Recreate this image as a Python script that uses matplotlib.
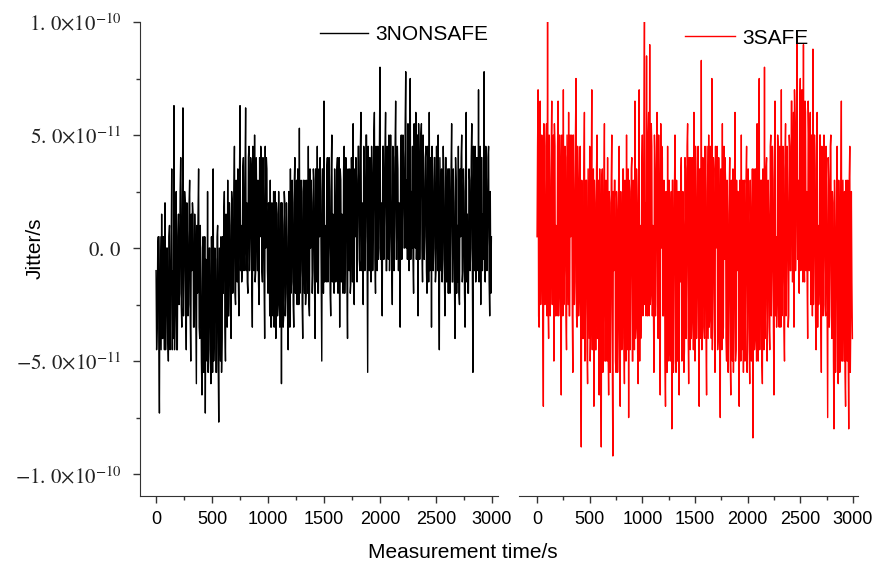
import numpy as np
import matplotlib
matplotlib.use("Agg")
import matplotlib.pyplot as plt
from matplotlib.ticker import MultipleLocator, FixedLocator

plt.rcParams['font.family'] = ['Liberation Sans', 'DejaVu Sans']
plt.rcParams['mathtext.fontset'] = 'stix'

# jitter values, in units of 1e-11 s
# *_peak: one every 10 s (the spiky envelope), *_core: the dense band in between (offset 5 s)
nonsafe_peak = [
    -1.0, -3.5, 0.5, -7.3, -2.0, 1.5, -4.0, -1.5, 2.0, -3.0, 0.0, -5.0, 1.0, -2.5, 3.5, -1.0, 6.3, -3.0, 2.5, -4.5,
    1.5, -2.0, 4.0, -3.5, 6.2, -1.0, 2.0, -4.5, 0.5, -2.5, 3.0, -5.0, -1.0, 1.5, -3.5, 0.0, -6.0, -2.0, 3.5, -4.0,
    -1.5, -6.5, 0.5, -3.0, -7.3, -1.0, 2.5, -4.5, 0.0, -6.0, -2.0, 3.5, -3.5, -0.5, -5.5, 1.0, -7.7, -2.5, 0.5, -4.0,
    -2.0, 2.5, -5.0, -0.5, 3.0, -3.0, 1.0, -4.0, 2.0, -1.5, 4.5, -2.5, 0.5, 3.5, -3.0, 6.3, 1.0, -1.0, 4.0, 0.0,
    6.2, 2.0, -2.0, 4.5, 0.5, 3.5, -3.5, 2.5, 5.0, -1.0, 1.5, 3.0, -2.5, 0.5, 4.0, -1.5, 2.0, -4.0, 0.0, 3.5,
    -2.0, 1.0, 3.0, -3.5, 0.0, 2.5, -1.5, -4.0, 1.5, -2.5, 0.5, -1.0, -6.0, 1.0, -3.0, 2.0, -2.0, 0.5, -4.5, 1.5,
    3.5, -1.5, 2.0, -3.5, 4.0, 0.0, -2.5, 1.5, 5.3, -1.0, 2.5, -4.0, 0.5, 3.0, -2.0, 1.0, 4.5, -3.0, 0.0, 2.0,
    -1.0, 3.0, -4.0, 1.5, 4.5, -2.0, 0.5, 2.5, -5.0, 3.5, 6.5, 1.0, -1.5, 4.0, 0.0, 2.5, -3.0, 5.0, 1.5, -2.0,
    2.0, -1.0, 4.0, 0.5, -3.5, 3.0, 1.5, -2.0, 4.5, 0.0, 2.5, -4.0, 1.0, 3.5, -1.5, 2.0, 5.5, -2.5, 0.5, 3.0,
    1.0, 4.5, -1.0, 6.0, 2.0, -2.5, 3.5, 0.5, 5.0, -5.5, 2.5, 4.0, -1.5, 3.0, 1.0, 6.0, -2.0, 2.5, 4.5, 0.0,
    8.0, 2.0, -3.0, 4.5, 1.5, 6.0, -1.0, 3.0, 5.0, 0.5, 2.5, -2.5, 4.0, 1.0, 6.5, -0.5, 3.5, 2.0, -3.5, 5.0,
    1.5, 4.0, 0.0, 7.8, 3.0, 5.5, -1.0, 7.5, 2.5, 4.5, -2.0, 3.5, 6.0, 1.0, -3.0, 4.0, 2.0, 5.5, -1.5, 3.0,
    0.5, 4.5, -2.0, 2.5, 6.0, 1.0, -3.5, 3.0, 0.0, 4.0, -1.0, 2.0, 5.0, -4.5, 1.5, 3.5, -0.5, 2.5, -3.0, 4.0,
    1.0, -2.0, 3.5, 0.5, 5.5, -1.5, 2.0, -4.0, 3.0, 1.0, 4.5, -2.5, 0.5, 5.0, -1.0, 2.5, -3.5, 6.0, 1.5, -2.0,
    3.0, 0.0, 5.5, -5.5, 2.0, 4.5, -1.0, 3.5, 7.0, 0.5, -2.5, 4.0, 1.5, 7.8, -1.5, 3.0, 0.5, 4.5, -3.0, -2.0,
]
nonsafe_core = [
    -4.5, 0.0, -4.0, 0.5, -4.5, -4.0, 0.5, -4.5, -4.5, 0.0, -4.0, 0.5, -4.5, 0.0, -4.5, -4.0, -4.5, 0.5, -4.5, 0.5,
    -2.5, 2.5, -2.5, 2.0, -3.0, 2.5, -2.5, 2.0, -3.0, 2.0, -3.0, 1.5, 2.0, -3.5, 1.5, -3.0, 1.0, 1.5, -3.5, 1.0,
    -5.0, 0.0, -5.5, 0.5, -0.5, -5.0, -5.5, 0.0, -5.0, 0.5, -5.5, -5.0, 0.0, -5.5, 0.5, -5.0, 0.0, -5.0, -5.5, 0.5,
    1.5, -3.5, 1.5, -3.5, -3.0, 2.0, -2.5, 2.5, -2.0, 2.5, -2.0, 3.0, -1.5, -1.5, 3.0, -1.0, -1.5, 3.5, -1.0, 3.5,
    -1.0, -1.5, 4.0, -1.0, 4.0, -1.5, 4.5, -1.0, -1.5, 4.0, -1.0, -1.5, 4.0, 4.5, -1.0, 4.0, -1.5, 4.5, 4.0, -1.0,
    2.0, -3.0, -3.5, 2.0, -3.0, -3.5, 2.5, 2.0, -3.0, 2.5, -3.5, 2.0, 2.0, -3.5, 2.5, -3.0, 2.0, -3.0, 2.5, -3.5,
    -2.0, 3.0, -2.5, 3.0, -2.0, 3.0, 3.5, -2.5, -2.0, 3.0, -2.5, 3.0, -2.0, -2.5, 3.0, -2.0, -2.5, 3.5, 3.0, -2.0,
    3.5, -1.5, 3.5, -1.5, -2.0, 3.5, 4.0, -1.5, 3.5, -2.0, -1.5, -1.0, 3.5, -1.5, 4.0, -2.0, 3.5, -1.5, -1.0, 3.5,
    -1.5, 3.5, -2.0, 4.0, 3.5, -1.5, -1.0, 3.5, -2.0, 4.0, -1.5, 3.5, -1.0, -2.0, 4.0, -1.5, -2.0, 3.5, 4.0, -1.5,
    4.5, -0.5, 4.5, -1.0, -0.5, 4.5, -1.0, 5.0, -0.5, 4.5, -1.0, -0.5, 4.5, -1.0, 5.0, -0.5, 4.5, -1.0, -0.5, 4.5,
    -0.5, -1.0, 4.5, -0.5, 4.5, -1.0, 4.5, -0.5, -1.0, 5.0, -0.5, 4.5, -1.0, 4.5, -0.5, 4.5, -1.0, -0.5, 4.5, -0.5,
    5.0, 0.0, 5.5, 0.0, -0.5, 0.0, 5.0, -0.5, 0.0, -0.5, 5.5, 0.0, -0.5, 5.0, 5.5, -0.5, 5.0, 0.0, 5.0, -0.5,
    4.0, -1.0, 4.5, -1.5, -1.0, 4.0, 4.5, -1.0, 4.0, -1.5, 4.5, -1.0, -1.5, 4.0, -1.0, -1.5, 4.5, -1.0, 4.0, -1.5,
    3.5, 3.5, -2.0, 3.5, -1.5, 3.5, -1.5, 4.0, -2.0, -1.5, -2.0, 3.5, 4.0, -1.5, 3.5, -2.0, 3.5, -1.5, -2.0, 3.5,
    -1.0, 4.0, -1.0, 4.5, -1.0, -1.5, 4.0, -1.0, -1.5, 4.5, 4.0, -1.0, -0.5, -1.0, 4.5, -1.0, 4.0, -1.5, 2.5, 0.5,
]

safe_peak = [
    0.5, 7.0, -3.5, 6.5, -1.0, 4.0, -7.0, 2.5, -2.0, 5.5, 10.0, -4.0, 3.0, -1.5, 6.5, 0.0, -5.0, 4.5, 1.0, -3.0,
    6.5, -2.0, 3.5, -6.5, 2.0, 7.0, -1.0, 4.0, -4.5, 1.5, 6.0, -3.0, 0.5, 5.0, -5.5, 2.5, -1.5, 7.5, -3.5, 3.0,
    -2.0, 4.5, -8.8, 1.0, -4.0, 6.0, -2.5, 3.0, -6.0, 0.0, 4.5, -3.5, 7.0, -1.0, -7.0, 2.0, -4.5, 5.0, -2.0, -6.5,
    1.5, -8.8, 3.5, -3.0, 5.5, -5.0, 0.0, 4.0, -6.5, 2.0, -2.5, 5.0, -9.2, -1.0, 3.0, -5.5, 1.5, -3.5, 4.5, -7.0,
    0.5, -4.0, 3.5, -6.0, 1.5, 5.0, -2.5, -7.5, 2.5, -1.0, 4.0, -5.0, 0.5, 6.5, -3.5, 2.0, -6.0, 7.0, 1.0, -2.5,
    5.0, -1.5, 10.0, 2.0, 8.5, -3.0, 6.0, 9.0, -2.0, 4.5, 1.0, -5.5, 3.5, -0.5, 6.0, -4.0, 2.5, -6.5, 0.0, 4.0,
    -3.0, 2.0, -7.0, 0.5, 4.5, -4.5, 1.5, -2.0, -8.0, 3.0, -1.0, 5.0, -5.5, 0.0, 2.5, -6.5, -1.5, 4.0, -3.5, 1.0,
    -4.5, 3.5, -1.0, 5.5, -6.0, 1.0, 4.0, -3.0, 0.5, 6.0, -5.0, 2.0, -2.0, 4.5, -7.0, 1.5, 8.3, -2.5, 3.0, -4.0,
    2.5, -6.5, 0.5, 5.0, -3.0, 1.5, 7.5, -2.0, 3.5, -5.5, 0.0, 4.5, -4.0, 2.0, -7.5, 1.0, 5.5, -3.5, -0.5, 3.0,
    -5.0, 1.5, -2.5, 4.0, -6.5, 0.0, 3.5, -3.5, 6.0, -4.5, -1.0, 2.5, -7.0, 1.0, 5.0, -2.0, -5.5, 3.0, -1.5, 4.5,
    -3.5, 2.0, -6.0, 1.0, -2.0, -8.4, 3.5, -4.0, 0.5, 5.5, -5.0, 7.5, -1.0, 3.0, -6.0, 2.0, 8.0, -2.5, 4.0, -3.0,
    1.5, -4.5, 5.0, -1.0, 3.0, -6.5, 6.5, 0.5, -2.5, 4.5, -3.5, 2.5, 7.0, -1.5, 3.5, -5.0, 5.5, 0.0, 2.0, -3.0,
    4.5, -1.0, 6.5, 2.0, -3.5, 5.5, 1.0, 9.3, 3.0, -2.0, 7.5, 0.5, 4.0, 9.0, -1.5, 6.0, 2.5, -4.0, 5.0, 1.5,
    -2.5, 4.5, 8.8, 0.0, 3.5, -4.5, 6.0, 1.0, -1.5, 5.0, -5.5, 2.5, -0.5, 4.0, -3.0, 1.5, -7.5, 3.0, -1.0, 5.0,
    -4.0, 2.0, -8.0, 0.5, -2.5, 4.5, -6.0, 1.0, -3.5, 6.5, -5.0, -1.0, 2.5, -7.0, 0.0, 3.0, -8.0, 4.5, -3.0, -1.5,
]
safe_core = [
    4.5, -3.0, 5.0, -2.5, 5.0, -3.0, 5.5, -2.5, 4.5, -3.0, -2.5, 5.0, -3.0, 4.5, -2.5, 5.0, 5.5, -3.0, -2.5, 4.5,
    -3.0, 5.0, -2.5, 5.0, -3.0, -2.5, 4.5, -3.0, 5.0, -2.5, -3.0, 5.0, 4.5, -3.0, 5.0, -2.5, 5.0, -3.0, 4.5, -3.0,
    3.5, -4.5, 3.0, -4.0, 3.5, -5.0, 3.0, -4.5, 3.5, -4.0, -5.0, 3.0, -4.5, 3.5, 3.0, -4.5, 3.5, -4.0, 3.0, 3.5,
    -5.0, 3.0, -5.5, 2.5, -5.0, 3.0, -5.0, -4.5, 2.5, -5.5, 3.0, -5.0, 2.5, 3.0, -5.0, 2.5, -5.5, 3.0, -5.0, 2.5,
    -4.5, 3.5, -4.0, 3.0, -5.0, -4.5, 3.5, 3.0, -4.5, 3.5, -5.0, 3.0, -4.5, -4.0, 3.5, -4.5, 3.0, -5.0, -4.0, 3.5,
    -3.0, 5.0, -2.5, -3.0, -2.5, 5.0, -3.0, -2.5, 5.5, -3.0, -2.0, 5.0, -3.0, 4.5, -2.5, 5.0, -3.0, 5.5, 4.5, -3.0,
    3.0, -5.0, 2.5, -5.5, -5.0, 3.0, -5.0, 2.5, 3.0, -5.5, 2.5, -5.0, 3.0, -5.0, -5.5, 2.5, 3.0, -5.0, 2.5, -5.5,
    4.0, -4.0, 4.5, -3.5, 4.0, -4.5, -4.0, 4.0, -4.5, -3.5, 4.5, -4.0, 4.0, -4.5, 3.5, -4.0, -4.5, 4.0, -3.5, 4.5,
    -4.0, 4.5, -4.0, -3.5, 4.5, -4.0, -4.5, 4.0, -3.5, 4.5, 4.0, -4.5, 4.0, -4.0, 3.5, -4.5, -4.0, 4.5, 4.0, -4.0,
    3.0, -5.5, 2.5, -5.0, 3.0, -5.0, -5.5, 2.5, -5.0, 3.0, 2.5, -5.5, 3.0, -5.0, -4.5, 3.0, 2.5, -5.0, 3.0, -5.5,
    3.5, -4.5, 3.0, -5.0, 3.5, 3.0, -4.5, 3.5, -5.0, -4.0, 3.5, -4.5, 3.0, -5.0, 3.5, -4.5, -4.0, 3.5, -5.0, 3.0,
    -3.5, 4.5, -3.0, 4.5, -3.5, 4.0, -3.0, -3.5, 5.0, -3.0, 4.5, -3.5, -3.0, 4.5, -3.5, 4.0, -3.0, 4.5, -3.5, 5.0,
    -1.0, 6.5, -1.5, 6.0, 7.0, -1.0, 6.5, -0.5, -1.5, 6.0, -1.0, 7.0, -1.5, -0.5, 6.5, -1.0, -1.5, 6.5, -1.0, 6.0,
    5.0, -3.0, -2.5, 5.0, -3.0, 4.5, -3.5, -2.5, 5.0, -3.0, 4.5, -3.0, 5.0, -2.5, 4.5, -3.0, 4.0, -3.5, 4.5, -3.0,
    2.5, -5.0, 3.0, -5.5, 2.5, -5.0, 3.0, -5.5, 2.5, -5.0, 3.0, -5.0, -5.5, 3.0, -5.0, -4.5, 3.0, -5.5, 2.5, -4.0,
]

ytick_vals = [-1.0e-10, -5.0e-11, 0.0, 5.0e-11, 1.0e-10]
ytick_labels = [r'$-1.\,0{\times}10^{-10}$', r'$-5.\,0{\times}10^{-11}$', r'$0.\,0$',
                r'$5.\,0{\times}10^{-11}$', r'$1.\,0{\times}10^{-10}$']
xticks = [0, 500, 1000, 1500, 2000, 2500, 3000]

# interleave the 10 s envelope samples with the in-between core samples
time_s = np.arange(2 * len(nonsafe_peak)) * 5
nonsafe = np.column_stack([nonsafe_peak, nonsafe_core]).ravel() * 1e-11
safe = np.column_stack([safe_peak, safe_core]).ravel() * 1e-11

fig = plt.figure(figsize=(8.78, 5.69), dpi=100)
ax1 = fig.add_axes([139.6 / 878, 1 - 496 / 569, (498 - 139.6) / 878, (496 - 22) / 569])
ax2 = fig.add_axes([518.5 / 878, 1 - 496 / 569, (858 - 518.5) / 878, (496 - 22) / 569])

ax1.plot(time_s, nonsafe, color='black', lw=1.0, label='3NONSAFE')
ax2.plot(time_s, safe, color='red', lw=1.0, label='3SAFE')

for ax, xl in ((ax1, (-147, 3054)), (ax2, (-176, 3048))):
    ax.set_xlim(*xl)
    ax.set_ylim(-1.097e-10, 1.0e-10)
    ax.spines['top'].set_visible(False)
    ax.spines['right'].set_visible(False)
    ax.spines['bottom'].set_color('#333333')
    ax.xaxis.set_major_locator(FixedLocator(xticks))
    ax.xaxis.set_minor_locator(MultipleLocator(250))
    ax.tick_params(axis='x', which='major', length=5, width=1, labelsize=13, pad=6, colors='#333333', labelcolor='black')
    ax.tick_params(axis='x', which='minor', length=3, width=1, colors='#333333')

ax1.spines['left'].set_color('#333333')
ax1.set_yticks(ytick_vals)
ax1.set_yticklabels(ytick_labels, fontsize=15, color='#222222')
ax1.yaxis.set_minor_locator(MultipleLocator(2.5e-11))
ax1.tick_params(axis='y', which='major', length=5, width=1, pad=8, colors='#333333', labelcolor='#222222')
ax1.tick_params(axis='y', which='minor', length=3, width=1, colors='#333333')

ax2.spines['left'].set_visible(False)
ax2.set_yticks([])

ax1.legend(loc='center left', bbox_to_anchor=(320 / 878, 1 - 35 / 569), bbox_transform=fig.transFigure,
           frameon=False, fontsize=15, handlelength=2.3, handletextpad=0.35, borderpad=0, borderaxespad=0)
ax2.legend(loc='center left', bbox_to_anchor=(685 / 878, 1 - 38 / 569), bbox_transform=fig.transFigure,
           frameon=False, fontsize=15, handlelength=2.4, handletextpad=0.35, borderpad=0, borderaxespad=0)

fig.text(35 / 878, 1 - 248 / 569, 'Jitter/s', rotation=90, ha='center', va='center', fontsize=15)
fig.text(463 / 878, 1 - 553 / 569, 'Measurement time/s', ha='center', va='center', fontsize=15)

fig.savefig('out.png', dpi=100)
